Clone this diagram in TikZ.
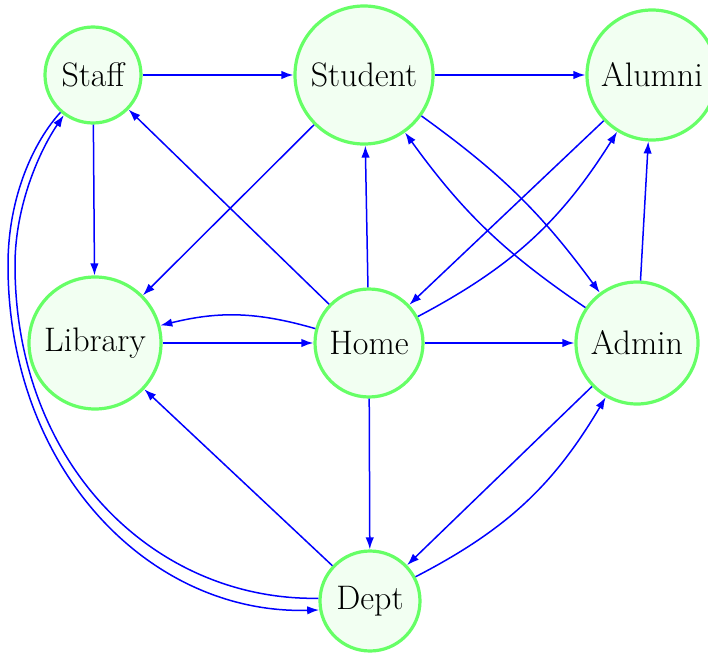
\documentclass[tikz,border=0pt]{standalone}
\usetikzlibrary{arrows.meta}
\begin{document}
\begin{tikzpicture}[x=0.5pt, y=0.5pt,
  state/.style={circle, draw=green!60, fill=green!5, line width=1.6pt, inner sep=0pt, font=\fontsize{17}{20}\selectfont},
  link/.style={blue, line width=0.75pt, -{Latex[length=6pt, width=4.2pt]}}]
\useasboundingbox (0,0) rectangle (708,-653);
\node[state, minimum size=48pt] (staff) at (93,-75) {Staff};
\node[state, minimum size=69pt] (student) at (364,-75) {Student};
\node[state, minimum size=65pt] (alumni) at (652,-75) {Alumni};
\node[state, minimum size=66pt] (library) at (95,-343) {Library};
\node[state, minimum size=54pt] (home) at (369,-343) {Home};
\node[state, minimum size=61pt] (admin) at (637,-343) {Admin};
\node[state, minimum size=50pt] (dept) at (370,-601) {Dept};
\draw[link] (staff) -- (student);
\draw[link] (student) -- (alumni);
\draw[link] (staff) -- (library);
\draw[link] (home) -- (staff);
\draw[link] (student) -- (library);
\draw[link] (home) -- (student);
\draw[link] (student) to[bend left=9] (admin);
\draw[link] (admin) to[bend left=10] (student);
\draw[link] (alumni) -- (home);
\draw[link] (home) to[bend right=15] (alumni);
\draw[link] (admin) -- (alumni);
\draw[link] (home) to[bend right=15] (library);
\draw[link] (library) -- (home);
\draw[link] (home) -- (admin);
\draw[link] (home) -- (dept);
\draw[link] (dept) -- (library);
\draw[link] (admin) -- (dept);
\draw[link] (dept) to[bend right=16] (admin);
\draw[link] (staff.229) .. controls (35,-140) and (8,-195) .. (8,-265) .. controls (8,-470) and (150,-615) .. (dept.190);
\draw[link] (dept.177) .. controls (155,-601) and (15,-465) .. (15,-265) .. controls (15,-205) and (40,-150) .. (staff.234);
\end{tikzpicture}
\end{document}
